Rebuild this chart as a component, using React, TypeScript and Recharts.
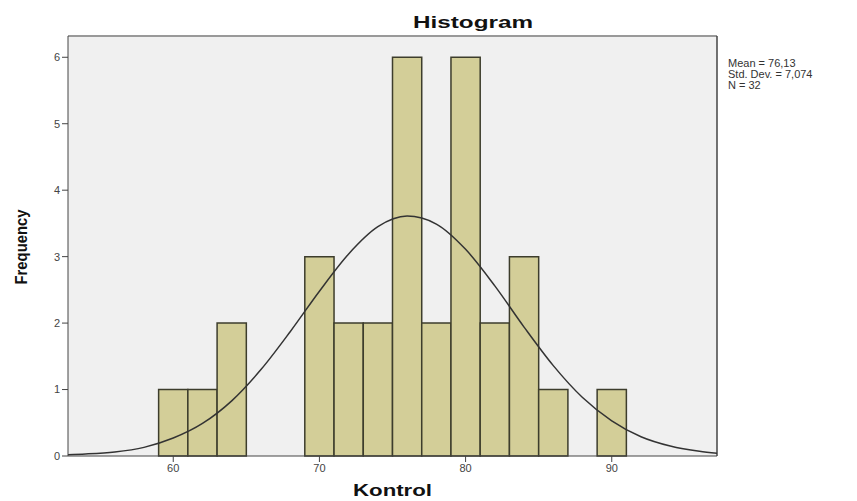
import { ComposedChart, XAxis, YAxis, Line, ReferenceArea, ReferenceLine, CartesianGrid } from "recharts";

// histogram bins (lower edge, upper edge, frequency)
const binStarts = [59, 61, 63, 65, 67, 69, 71, 73, 75, 77, 79, 81, 83, 85, 87, 89];
const binEnds = [61, 63, 65, 67, 69, 71, 73, 75, 77, 79, 81, 83, 85, 87, 89, 91];
const frequencies = [1, 1, 2, 0, 0, 3, 2, 2, 6, 2, 6, 2, 3, 1, 0, 1];

// normal curve
const curveX = [52.8, 54, 56, 58, 60, 62, 64, 66, 68, 70, 72, 74, 76, 78, 80, 82, 84, 86, 88, 90, 92, 94, 96, 97.2];
const curveY = [0.02, 0.03, 0.06, 0.13, 0.27, 0.49, 0.83, 1.3, 1.87, 2.48, 3.04, 3.45, 3.61, 3.49, 3.11, 2.56, 1.94, 1.36, 0.88, 0.53, 0.29, 0.15, 0.07, 0.04];

const xTicks = [60, 70, 80, 90];
const yTicks = [0, 1, 2, 3, 4, 5, 6];
const statLines = ["Mean = 76,13", "Std. Dev. = 7,074", "N = 32"];

const X_MIN = 52.8;
const X_MAX = 97.2;
const Y_MAX = 6.32;

const curve = curveX.map((x, i) => ({ x, y: curveY[i] }));

const font = "'Liberation Sans', Arial, sans-serif";

export default function App() {
  return (
    <div style={{ position: "absolute", left: 0, top: 0, width: 857, height: 501, background: "#fff", fontFamily: font }}>
      <div style={{ position: "absolute", left: 728, top: 58, fontSize: 11, lineHeight: "11px", color: "#333" }}>
        {statLines.map((s) => (
          <div key={s}>{s}</div>
        ))}
      </div>
      <ComposedChart width={857} height={501} data={curve} margin={{ top: 36, right: 140, left: 0, bottom: 0 }}>
        <CartesianGrid fill="#f0f0f0" horizontal={false} vertical={false} />
        <XAxis
          type="number"
          dataKey="x"
          domain={[X_MIN, X_MAX]}
          ticks={xTicks}
          height={45}
          allowDataOverflow
          stroke="#444"
          tickSize={6}
          tick={{ fontSize: 11, fill: "#444" }}
        />
        <YAxis
          type="number"
          domain={[0, Y_MAX]}
          ticks={yTicks}
          width={68}
          allowDataOverflow
          stroke="#444"
          tickSize={6}
          tick={{ fontSize: 11, fill: "#444" }}
        />
        <ReferenceLine y={Y_MAX} stroke="#999" strokeWidth={2} />
        <ReferenceLine x={X_MAX} stroke="#444" strokeWidth={1.5} />
        {binStarts.map((b, i) =>
          frequencies[i] > 0 ? (
            <ReferenceArea
              key={b}
              x1={b}
              x2={binEnds[i]}
              y1={0}
              y2={frequencies[i]}
              fill="#d3ce98"
              fillOpacity={1}
              stroke="#3d3d2c"
              strokeWidth={1.5}
            />
          ) : null
        )}
        <Line type="monotone" dataKey="y" stroke="#333" strokeWidth={1.5} dot={false} isAnimationActive={false} />
      </ComposedChart>
      {/* stretched SPSS-style titles */}
      <svg width={857} height={501} style={{ position: "absolute", left: 0, top: 0, pointerEvents: "none" }}>
        <text x={413} y={28} fontSize={17} fontWeight="bold" fill="#111" textLength={120} lengthAdjust="spacingAndGlyphs" fontFamily={font}>
          Histogram
        </text>
        <text x={353} y={496} fontSize={16} fontWeight="bold" fill="#111" textLength={79} lengthAdjust="spacingAndGlyphs" fontFamily={font}>
          Kontrol
        </text>
        <text
          x={27}
          y={247}
          fontSize={17}
          fontWeight="bold"
          fill="#111"
          textAnchor="middle"
          textLength={75}
          lengthAdjust="spacingAndGlyphs"
          transform="rotate(-90, 27, 247)"
          fontFamily={font}
        >
          Frequency
        </text>
      </svg>
    </div>
  );
}
